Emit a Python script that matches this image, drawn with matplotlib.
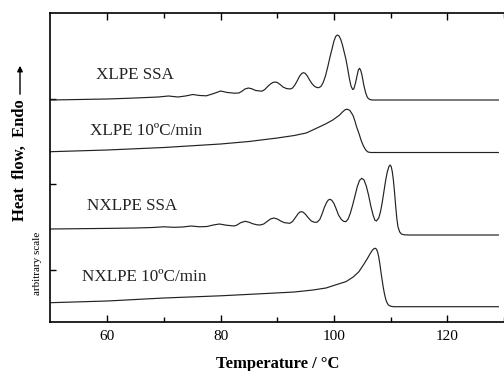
import matplotlib
matplotlib.use("Agg")
import matplotlib.pyplot as plt

plt.rcParams['font.family'] = ['Liberation Serif', 'DejaVu Serif']

# XLPE after SSA fractionation
xlpe_ssa_T = [50, 55, 60, 64, 67, 69, 70.8, 72.5, 73.8, 75.1, 76.3, 77.5, 78.8, 80.0,
              81.2, 82.5, 83.2, 83.7, 84.3, 84.9, 85.5, 86.2, 87.3, 87.8, 88.3, 88.8,
              89.2, 89.6, 90.0, 90.5, 91.0, 91.6, 92.3, 92.7, 93.1, 93.5, 93.9, 94.3,
              94.6, 94.9, 95.3, 95.7, 96.1, 96.6, 97.0, 97.3, 97.7, 98.1, 98.5, 98.9,
              99.3, 99.7, 100.0, 100.3, 100.6, 100.9, 101.2, 101.5, 101.8, 102.1, 102.4,
              102.7, 103.0, 103.3, 103.5, 103.8, 104.1, 104.3, 104.5, 104.7, 104.9, 105.1,
              105.3, 105.6, 105.9, 106.3, 106.8, 108, 115, 129]
xlpe_ssa_h = [22.2, 22.25, 22.3, 22.38, 22.45, 22.5, 22.6, 22.5, 22.6, 22.75, 22.65, 22.62,
              22.85, 23.1, 22.95, 22.88, 22.9, 23.05, 23.3, 23.4, 23.32, 23.15, 23.08, 23.25,
              23.55, 23.8, 23.95, 24.0, 23.95, 23.75, 23.5, 23.35, 23.3, 23.4, 23.7, 24.1,
              24.55, 24.85, 24.93, 24.88, 24.6, 24.2, 23.85, 23.55, 23.45, 23.43, 23.55,
              23.95, 24.6, 25.5, 26.5, 27.4, 28.1, 28.55, 28.7, 28.6, 28.25, 27.7, 27.0,
              26.3, 25.4, 24.4, 23.6, 23.25, 23.3, 23.9, 24.7, 25.2, 25.37, 25.2, 24.8,
              24.2, 23.6, 22.9, 22.45, 22.25, 22.2, 22.2, 22.2, 22.2]

# XLPE standard scan 10 C/min
xlpe_10_T = [50, 60, 70, 80, 85, 90, 93, 95.1, 96.9, 98.5, 99.8, 101.0, 101.5, 101.9,
             102.2, 102.5, 102.8, 103.1, 103.4, 103.7, 104.0, 104.4, 104.8, 105.2, 105.6,
             106.0, 106.5, 129]
xlpe_10_h = [17.03, 17.2, 17.45, 17.8, 18.05, 18.4, 18.65, 18.9, 19.37, 19.8, 20.2, 20.7,
             21.0, 21.2, 21.27, 21.25, 21.15, 20.9, 20.6, 20.1, 19.5, 18.87, 18.15, 17.6,
             17.2, 17.0, 16.95, 16.95]

# NXLPE after SSA fractionation
nxlpe_ssa_T = [50, 55, 60, 65, 68, 70, 71.8, 73.3, 74.8, 76.3, 77.6, 78.7, 79.8, 81.0,
               82.4, 82.9, 83.5, 84.3, 85.0, 85.7, 86.4, 87.0, 87.6, 88.2, 88.8, 89.4,
               90.0, 90.6, 91.3, 92.2, 92.7, 93.2, 93.7, 94.0, 94.3, 94.6, 95.0, 95.5,
               96.0, 96.5, 97.0, 97.5, 97.9, 98.3, 98.7, 99.0, 99.3, 99.6, 100.0, 100.4,
               100.8, 101.3, 101.7, 102.1, 102.5, 102.9, 103.3, 103.7, 104.1, 104.5, 104.9,
               105.3, 105.7, 106.1, 106.5, 106.9, 107.2, 107.5, 107.9, 108.2, 108.5, 108.8,
               109.1, 109.4, 109.7, 109.9, 110.1, 110.3, 110.5, 110.7, 110.9, 111.1, 111.3,
               111.6, 111.9, 112.4, 113.1, 129]
nxlpe_ssa_h = [9.3, 9.33, 9.36, 9.4, 9.45, 9.52, 9.47, 9.5, 9.6, 9.52, 9.55, 9.7, 9.8, 9.68,
               9.6, 9.7, 9.92, 10.07, 9.98, 9.82, 9.72, 9.7, 9.8, 10.05, 10.3, 10.4,
               10.3, 10.1, 9.93, 9.87, 10.05, 10.45, 10.85, 11.0, 11.03, 10.97, 10.75, 10.4,
               10.1, 9.98, 9.97, 10.25, 10.8, 11.45, 11.95, 12.2, 12.27, 12.18, 11.85, 11.3,
               10.7, 10.25, 10.07, 10.03, 10.3, 10.9, 11.7, 12.6, 13.5, 14.15, 14.37,
               14.2, 13.6, 12.7, 11.6, 10.7, 10.2, 10.1, 10.4, 11.0, 11.9, 13.0,
               14.1, 15.0, 15.55, 15.7, 15.55, 15.0, 14.1, 12.9, 11.5, 10.3, 9.5,
               9.0, 8.8, 8.72, 8.7, 8.7]

# NXLPE standard scan 10 C/min
nxlpe_10_T = [50, 60, 70, 80, 88, 93, 96.3, 98.6, 100.5, 102.1, 103.4, 104.4, 105.3, 105.9,
              106.4, 106.8, 107.1, 107.3, 107.5, 107.7, 107.9, 108.1, 108.3, 108.5, 108.7,
              108.9, 109.1, 109.3, 109.6, 110.0, 110.5, 129]
nxlpe_10_h = [1.93, 2.1, 2.4, 2.62, 2.85, 3.0, 3.2, 3.4, 3.75, 4.03, 4.5, 5.03, 5.8, 6.35,
              6.85, 7.2, 7.35, 7.37, 7.28, 7.0, 6.5, 5.8, 4.95, 4.2, 3.45,
              2.85, 2.35, 2.0, 1.7, 1.58, 1.53, 1.53]

labels = ["XLPE SSA", "XLPE 10ºC/min", "NXLPE SSA", "NXLPE 10ºC/min"]
label_x = [58.1, 56.9, 56.5, 55.6]
label_y = [24.7, 19.13, 11.6, 4.53]

fig = plt.figure(figsize=(5.04, 3.71), dpi=100)
ax = fig.add_axes([50/504, 49/371, 454/504, 309/371])

for T, h in [(xlpe_ssa_T, xlpe_ssa_h), (xlpe_10_T, xlpe_10_h),
             (nxlpe_ssa_T, nxlpe_ssa_h), (nxlpe_10_T, nxlpe_10_h)]:
    ax.plot(T, h, color='#222222', lw=0.85)

for lab, x, y in zip(labels, label_x, label_y):
    ax.text(x, y, lab, fontsize=12.3, va='center', ha='left', color='#222222')

ax.set_xlim(49.9, 128.9)
ax.set_ylim(0, 30.9)
ax.set_xticks([60, 80, 100, 120])
ax.set_xticks([70, 90, 110, 130], minor=True)
ax.set_yticks([5.2, 13.8, 22.3])
ax.set_yticklabels([])
ax.tick_params(axis='x', which='major', direction='in', length=5, width=1, top=True,
               labelsize=11, pad=6)
ax.tick_params(axis='x', which='minor', direction='in', length=3.5, width=1, top=True)
ax.tick_params(axis='y', which='major', direction='in', length=4, width=1)
ax.spines['right'].set_visible(False)
for s in ['left', 'bottom', 'top']:
    ax.spines[s].set_linewidth(1.2)

fig.text(278/504, 7/371, "Temperature / °C", fontsize=12, fontweight='bold',
         ha='center', va='center')
fig.text(20/504, 211/371, "Heat  flow,  Endo", fontsize=12, fontweight='bold',
         rotation=90, ha='center', va='center')
fig.text(37/504, 108/371, "arbitrary scale", fontsize=8, rotation=90,
         ha='center', va='center')
ax.annotate("", xy=(20, 308), xytext=(20, 274), xycoords='figure pixels',
            textcoords='figure pixels',
            arrowprops=dict(arrowstyle='-|>', color='black', lw=1, mutation_scale=8))

fig.savefig("out.png", dpi=100)
